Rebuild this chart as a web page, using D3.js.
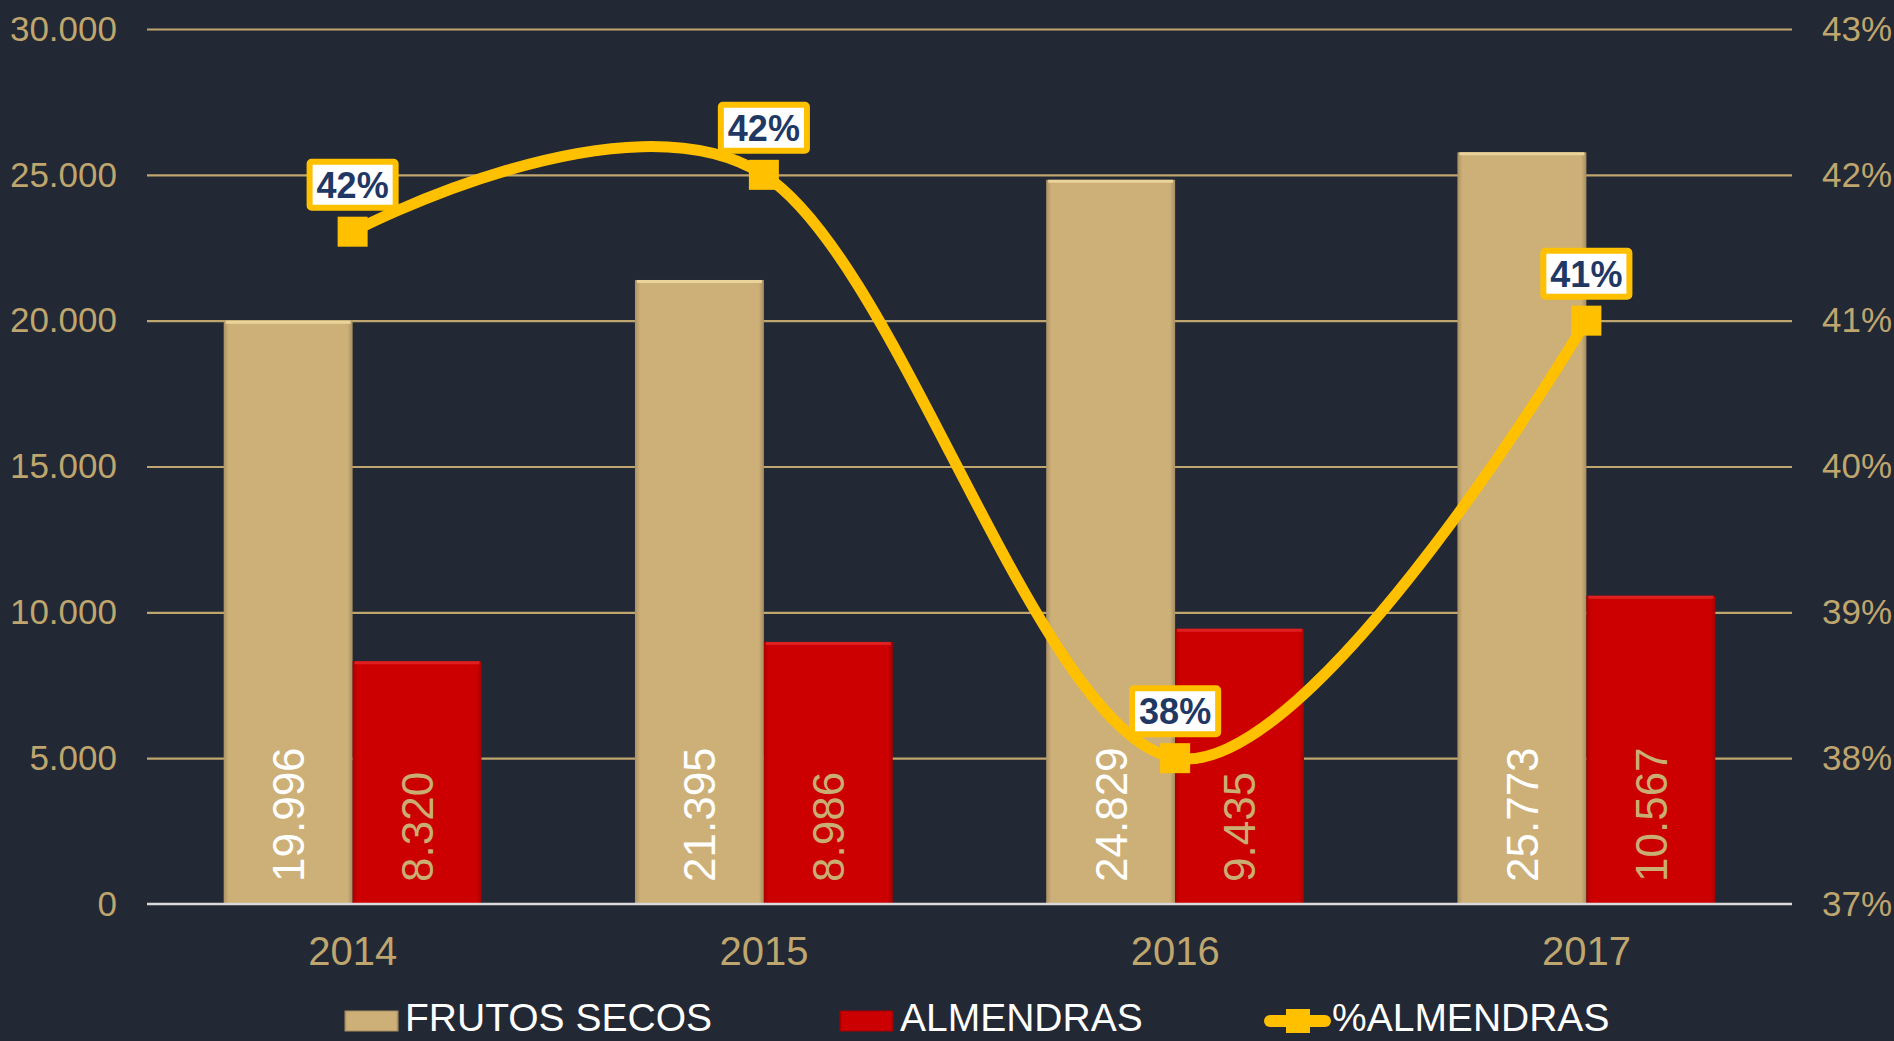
<!DOCTYPE html>
<html>
<head>
<meta charset="utf-8">
<script src="https://cdn.jsdelivr.net/npm/d3@7"></script>
<style>
  html, body { margin: 0; padding: 0; background: #222834; }
  svg { display: block; font-family: "Liberation Sans", Arial, sans-serif; }
</style>
</head>
<body>
<div id="chart"></div>
<script>
// data
const years = ["2014", "2015", "2016", "2017"];
const frutosSecos = [19996, 21395, 24829, 25773];
const almendras = [8320, 8986, 9435, 10567];
const pctAlmendras = [0.4161, 0.4200, 0.3800, 0.4100];
const leftTicks = [0, 5000, 10000, 15000, 20000, 25000, 30000];
const rightTicks = [0.37, 0.38, 0.39, 0.40, 0.41, 0.42, 0.43];
const seriesNames = ["FRUTOS SECOS", "ALMENDRAS", "%ALMENDRAS"];

const width = 1894, height = 1041;
const plotLeft = 147, plotRight = 1792, plotTop = 29, plotBottom = 904;
const tan = "#CDB078", red = "#CC0000", gold = "#FFC000", axisTan = "#BFA56E";

const loc = d3.formatLocale({decimal: ",", thousands: ".", grouping: [3], currency: ["", "€"]});
const fmtNum = loc.format(",d");
const fmtPct = d3.format(".0%");

const svg = d3.select("#chart").append("svg").attr("width", width).attr("height", height);
svg.append("rect").attr("width", width).attr("height", height).attr("fill", "#222834");

// gradients for a soft bevel look
const defs = svg.append("defs");
function bevel(id, c) {
    const g = defs.append("linearGradient").attr("id", id).attr("x1", 0).attr("x2", 1).attr("y1", 0).attr("y2", 0);
    g.append("stop").attr("offset", "0%").attr("stop-color", d3.color(c).darker(0.5));
    g.append("stop").attr("offset", "4%").attr("stop-color", c);
    g.append("stop").attr("offset", "96%").attr("stop-color", c);
    g.append("stop").attr("offset", "100%").attr("stop-color", d3.color(c).darker(0.6));
}
bevel("gTan", tan);
bevel("gRed", red);

const x0 = d3.scaleBand().domain(years).range([plotLeft, plotRight]).paddingInner(0.373).paddingOuter(0.1865);
const x1 = d3.scaleBand().domain([0, 1]).range([0, x0.bandwidth()]);
const y = d3.scaleLinear().domain([0, 30000]).range([plotBottom, plotTop]);
const yR = d3.scaleLinear().domain([0.37, 0.43]).range([plotBottom, plotTop]);

// left axis + gridlines
const gL = svg.append("g").attr("transform", `translate(${plotLeft},0)`)
    .call(d3.axisLeft(y).tickValues(leftTicks).tickFormat(fmtNum).tickSize(-(plotRight - plotLeft)).tickPadding(30));
gL.select(".domain").remove();
gL.selectAll(".tick line").attr("stroke", axisTan).attr("stroke-width", 2.2)
    .filter(d => d === 0).remove();
gL.selectAll(".tick text").attr("fill", axisTan).attr("font-size", 35).attr("font-family", "Liberation Sans, Arial, sans-serif");

// right axis
const gR = svg.append("g").attr("transform", `translate(${plotRight},0)`)
    .call(d3.axisRight(yR).tickValues(rightTicks).tickFormat(fmtPct).tickSize(0).tickPadding(30));
gR.select(".domain").remove();
gR.selectAll(".tick text").attr("fill", axisTan).attr("font-size", 35).attr("font-family", "Liberation Sans, Arial, sans-serif");

// bars
const barData = years.map((yr, i) => [
    {year: yr, s: 0, v: frutosSecos[i]},
    {year: yr, s: 1, v: almendras[i]}
]);
const groups = svg.append("g").selectAll("g").data(barData).join("g")
    .attr("transform", (d, i) => `translate(${x0(years[i])},0)`);
groups.selectAll("rect").data(d => d).join("rect")
    .attr("x", d => x1(d.s))
    .attr("width", x1.bandwidth())
    .attr("y", d => y(d.v))
    .attr("height", d => y(0) - y(d.v))
    .attr("fill", d => d.s === 0 ? "url(#gTan)" : "url(#gRed)");
groups.selectAll("line.top").data(d => d).join("line").attr("class", "top")
    .attr("x1", d => x1(d.s) + 2).attr("x2", d => x1(d.s) + x1.bandwidth() - 2)
    .attr("y1", d => y(d.v) + 1.5).attr("y2", d => y(d.v) + 1.5)
    .attr("stroke", d => d.s === 0 ? "#EBD49A" : "#E02020").attr("stroke-width", 3);
groups.selectAll("text").data(d => d).join("text")
    .attr("transform", d => `translate(${x1(d.s) + x1.bandwidth() / 2},${y(0) - 22}) rotate(-90)`)
    .attr("dy", "0.36em")
    .attr("text-anchor", "start")
    .attr("font-size", 44)
    .attr("fill", d => d.s === 0 ? "#FFFFFF" : "#C9AE74")
    .text(d => fmtNum(d.v));

// baseline
svg.append("line").attr("x1", plotLeft).attr("x2", plotRight).attr("y1", plotBottom).attr("y2", plotBottom)
    .attr("stroke", "#D9D9D9").attr("stroke-width", 2.5);

// x axis labels
const gX = svg.append("g").attr("transform", `translate(0,${plotBottom})`)
    .call(d3.axisBottom(x0).tickSize(0).tickPadding(33));
gX.select(".domain").remove();
gX.selectAll(".tick text").attr("fill", axisTan).attr("font-size", 40).attr("font-family", "Liberation Sans, Arial, sans-serif");

// smoothed line
const pts = years.map((yr, i) => [x0(yr) + x0.bandwidth() / 2, yR(pctAlmendras[i])]);
svg.append("path").datum(pts)
    .attr("d", d3.line().curve(d3.curveCardinal.tension(0)))
    .attr("fill", "none").attr("stroke", gold).attr("stroke-width", 11).attr("stroke-linecap", "round");
svg.append("g").selectAll("rect").data(pts).join("rect")
    .attr("x", d => d[0] - 15).attr("y", d => d[1] - 15)
    .attr("width", 30).attr("height", 30).attr("fill", gold);

// point labels in boxes
const lab = svg.append("g").selectAll("g").data(pts).join("g")
    .attr("transform", d => `translate(${d[0]},${d[1] - 47})`);
lab.append("text")
    .attr("text-anchor", "middle").attr("dy", "0.36em")
    .attr("font-size", 36).attr("font-weight", "bold").attr("fill", "#1F3864")
    .text((d, i) => fmtPct(pctAlmendras[i]));
lab.each(function() {
    const g = d3.select(this);
    const bb = g.select("text").node().getBBox();
    g.insert("rect", "text")
        .attr("x", -bb.width / 2 - 7).attr("y", -23)
        .attr("width", bb.width + 14).attr("height", 46)
        .attr("rx", 2)
        .attr("fill", "#FFFFFF").attr("stroke", gold).attr("stroke-width", 6);
});

// legend
const lg = svg.append("g").attr("transform", "translate(0,1017)");
const legendItems = [
    {name: seriesNames[0], x: 345, type: "bar", fill: "url(#gTan)", base: tan},
    {name: seriesNames[1], x: 840, type: "bar", fill: "url(#gRed)", base: red},
    {name: seriesNames[2], x: 1264, type: "line"}
];
legendItems.forEach(it => {
    if (it.type === "bar") {
        lg.append("rect").attr("x", it.x).attr("y", -6).attr("width", 53).attr("height", 20)
            .attr("fill", it.fill).attr("stroke", d3.color(it.base).darker(0.6)).attr("stroke-width", 1);
        lg.append("text").attr("x", it.x + 60).attr("dy", "0.36em").attr("font-size", 39)
            .attr("fill", "#FFFFFF").text(it.name);
    } else {
        lg.append("line").attr("x1", it.x + 6).attr("x2", it.x + 61).attr("y1", 4).attr("y2", 4)
            .attr("stroke", gold).attr("stroke-width", 12).attr("stroke-linecap", "round");
        lg.append("rect").attr("x", it.x + 22).attr("y", -8).attr("width", 24).attr("height", 24).attr("fill", gold);
        lg.append("text").attr("x", it.x + 68).attr("dy", "0.36em").attr("font-size", 39)
            .attr("fill", "#FFFFFF").text(it.name);
    }
});
</script>
</body>
</html>
